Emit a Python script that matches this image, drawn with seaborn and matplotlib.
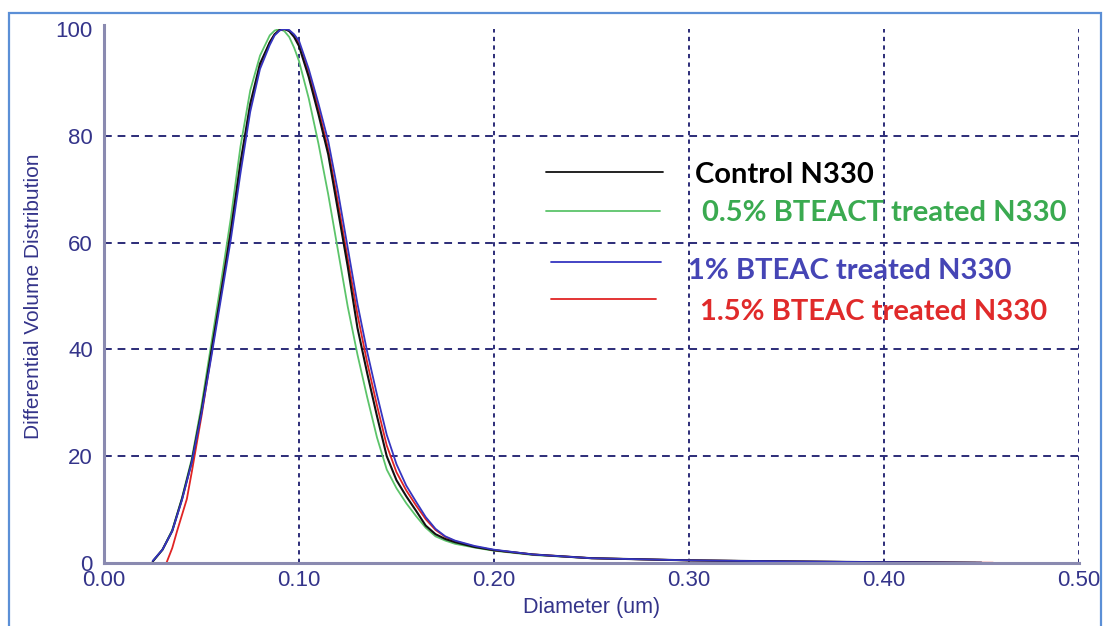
import matplotlib
matplotlib.use("Agg")
import matplotlib.pyplot as plt
import seaborn as sns
import pandas as pd
from matplotlib.patches import Rectangle

# ---------------- data ----------------
series_names = ["Control N330", "0.5% BTEACT treated N330",
                "1% BTEAC treated N330", "1.5% BTEAC treated N330"]

diam_control = [0.025, 0.030, 0.035, 0.040, 0.045, 0.050, 0.055, 0.060, 0.065, 0.070,
                0.075, 0.080, 0.085, 0.0875, 0.090, 0.0925, 0.095, 0.0975, 0.100, 0.105,
                0.110, 0.115, 0.120, 0.125, 0.130, 0.135, 0.140, 0.145, 0.150, 0.155,
                0.160, 0.165, 0.170, 0.175, 0.180, 0.190, 0.200, 0.220, 0.250, 0.300,
                0.350, 0.400, 0.450]
vol_control = [0.3, 2.5, 6, 12, 19, 28.5, 39.5, 50.5, 62, 75,
               86, 93.5, 97.5, 99, 99.8, 100, 99.6, 98.5, 96.8, 91,
               84, 76.5, 66, 55.5, 44, 35.5, 27.5, 20, 15.5, 12.5,
               9.8, 7.0, 5.4, 4.5, 3.9, 3.0, 2.4, 1.6, 0.9, 0.5,
               0.3, 0.15, 0.05]

diam_05 = [0.025, 0.030, 0.035, 0.040, 0.045, 0.050, 0.055, 0.060, 0.065, 0.070,
           0.075, 0.080, 0.085, 0.0875, 0.090, 0.0925, 0.095, 0.0975, 0.100, 0.105,
           0.110, 0.115, 0.120, 0.125, 0.130, 0.135, 0.140, 0.145, 0.150, 0.155,
           0.160, 0.165, 0.170, 0.175, 0.180, 0.190, 0.200, 0.220, 0.250, 0.300,
           0.350, 0.400, 0.447]
vol_05 = [0.3, 2.5, 6.2, 12.2, 19.5, 29.5, 41, 52.5, 64.5, 78,
          88.5, 95, 98.8, 99.7, 100, 99.6, 98.5, 96.5, 94, 87,
          78.5, 69, 58.5, 48, 39, 31, 23.5, 17.5, 14, 11.2,
          8.8, 6.6, 5.0, 4.2, 3.6, 2.9, 2.3, 1.5, 0.9, 0.5,
          0.3, 0.15, 0.05]

diam_1 = [0.025, 0.030, 0.035, 0.040, 0.045, 0.050, 0.055, 0.060, 0.065, 0.070,
          0.075, 0.080, 0.085, 0.0875, 0.090, 0.0925, 0.095, 0.0975, 0.100, 0.105,
          0.110, 0.115, 0.120, 0.125, 0.130, 0.135, 0.140, 0.145, 0.150, 0.155,
          0.160, 0.165, 0.170, 0.175, 0.180, 0.190, 0.200, 0.220, 0.250, 0.300,
          0.350, 0.400, 0.450]
vol_1 = [0.4, 2.5, 6, 11.8, 18.8, 28, 38.5, 49.5, 60.5, 73,
         84.5, 92.5, 97, 98.8, 99.7, 100, 99.8, 99, 97.8, 92.5,
         86, 79, 69.5, 59, 48.5, 39.5, 31.5, 24, 18.5, 14.5,
         11.5, 8.6, 6.4, 5.0, 4.2, 3.2, 2.5, 1.6, 0.9, 0.5,
         0.3, 0.15, 0.05]

diam_15 = [0.032, 0.035, 0.0375, 0.040, 0.0425, 0.045, 0.050, 0.055, 0.060, 0.065,
           0.070, 0.075, 0.080, 0.085, 0.0875, 0.090, 0.0925, 0.095, 0.0975, 0.100,
           0.105, 0.110, 0.115, 0.120, 0.125, 0.130, 0.135, 0.140, 0.145, 0.150,
           0.155, 0.160, 0.165, 0.170, 0.175, 0.180, 0.190, 0.200, 0.220, 0.250,
           0.300, 0.350, 0.400, 0.456]
vol_15 = [0, 2.8, 6, 9, 12, 17, 27.5, 39, 50.5, 62,
          74.5, 85.5, 93, 97.5, 99, 99.8, 100, 99.7, 98.8, 97.3,
          91.8, 85, 77.5, 67.5, 57, 46.5, 37.5, 29.5, 22, 17,
          13.6, 10.8, 8.2, 6.2, 4.9, 4.1, 3.1, 2.4, 1.6, 0.9,
          0.5, 0.3, 0.15, 0.05]

x_ticks = [0.0, 0.1, 0.2, 0.3, 0.4, 0.5]
x_tick_labels = ["0.00", "0.10", "0.20", "0.30", "0.40", "0.50"]
y_ticks = [0, 20, 40, 60, 80, 100]
y_tick_labels = ["0", "20", "40", "60", "80", "100"]

line_colors = ["#111111", "#5cc46a", "#3535c0", "#e02424"]
text_colors = ["#000000", "#3aaa50", "#4545b5", "#e02a2a"]

# ---------------- plot ----------------
sns.set_style("white")
plt.rcParams["font.family"] = ["Liberation Sans", "DejaVu Sans"]

fig = plt.figure(figsize=(11.05, 6.26), dpi=100)
ax = fig.add_axes([0.0941, 0.1006, 0.8824, 0.8531])

navy = "#2c2c78"
label_col = "#34348a"
ax.set_xlim(0, 0.5)
ax.set_ylim(0, 100)

frames = [
    (diam_05, vol_05, 1, 2),
    (diam_15, vol_15, 3, 3),
    (diam_control, vol_control, 0, 4),
    (diam_1, vol_1, 2, 5),
]
for d, v, ci, z in frames:
    df = pd.DataFrame({"Diameter": d, "Volume": v})
    sns.lineplot(data=df, x="Diameter", y="Volume", ax=ax, color=line_colors[ci],
                 linewidth=1.5 if ci == 0 else 1.3, sort=True, estimator=None, zorder=z)

# grid lines (vertical dotted, horizontal dashed)
for xv in x_ticks[1:]:
    ax.axvline(xv, color=navy, lw=1.4, ls=(0, (2.2, 2.2)), zorder=1)
for yv in y_ticks[1:-1]:
    ax.axhline(yv, color=navy, lw=1.4, ls=(0, (4, 3)), zorder=1)

ax.set_xticks(x_ticks)
ax.set_xticklabels(x_tick_labels)
ax.set_yticks(y_ticks)
ax.set_yticklabels(y_tick_labels)
ax.tick_params(axis="both", length=0, labelcolor=label_col, labelsize=16)
ax.tick_params(axis="x", pad=5)
ax.tick_params(axis="y", pad=8)

ax.set_xlabel("Diameter (um)", color=label_col, fontsize=15.5, labelpad=4)
ax.set_ylabel("Differential Volume Distribution", color=label_col, fontsize=15, labelpad=9)

for s in ["top", "right"]:
    ax.spines[s].set_visible(False)
for s in ["left", "bottom"]:
    ax.spines[s].set_color("#8a8ab0")
    ax.spines[s].set_linewidth(2.2)
    ax.spines[s].set_zorder(6)
ax.spines["left"].set_bounds(0, 100.8)

# hand-drawn style legend inside the axes (axes-fraction positions)
leg_lines = [((0.453, 0.573), 0.733), ((0.453, 0.570), 0.660),
             ((0.458, 0.571), 0.564), ((0.458, 0.566), 0.494)]
leg_text = [(0.606, 0.727), (0.613, 0.655), (0.599, 0.546), (0.611, 0.470)]
for i, name in enumerate(series_names):
    (x0, x1), yy = leg_lines[i]
    ax.plot([x0, x1], [yy, yy], transform=ax.transAxes, color=line_colors[i],
            lw=1.3, zorder=7)
    tx, ty = leg_text[i]
    ax.text(tx, ty, name, transform=ax.transAxes, color=text_colors[i],
            fontsize=21, fontweight="bold", family=["Lato", "DejaVu Sans"],
            ha="left", va="center", zorder=7)

# outer frame of the picture
fig.patches.append(Rectangle((0.008, -0.02), 0.988, 1.0, transform=fig.transFigure,
                             fill=False, edgecolor="#5b8fd6", lw=1.6))

fig.savefig("out.png", dpi=100, facecolor="white")
